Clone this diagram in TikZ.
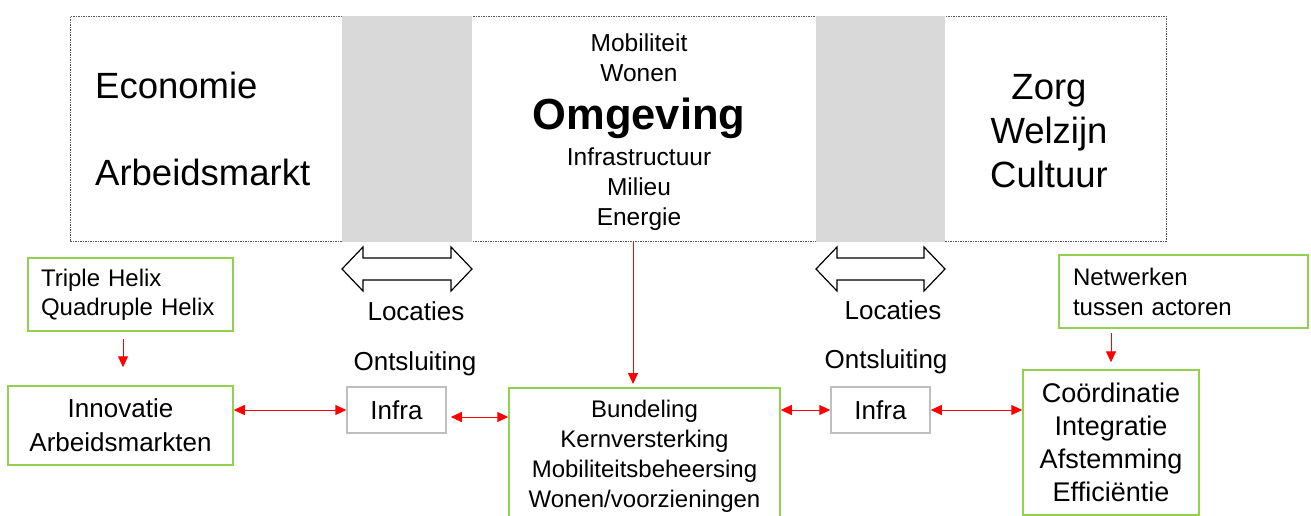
\documentclass[tikz,border=0pt]{standalone}
\usepackage{fontspec}
\setmainfont{Liberation Sans}
\usetikzlibrary{arrows.meta}
\definecolor{boxgreen}{HTML}{92D050}
\definecolor{bandgray}{HTML}{D9D9D9}
\definecolor{infragray}{HTML}{BFBFBF}
\definecolor{arrred}{HTML}{FF0000}
\definecolor{dashgray}{HTML}{595959}
\newcommand\fsz[2]{\fontsize{#1}{#2}\selectfont}
\begin{document}
\begin{tikzpicture}[x=1pt,y=-1pt,
  greenbox/.style={draw=boxgreen,line width=1.5pt,rectangle,inner sep=0pt},
  infrabox/.style={draw=infragray,line width=1.5pt,minimum width=99pt,minimum height=46pt,inner sep=0pt,font=\fsz{26}{30}},
  link/.style={draw=arrred,line width=1pt,{Triangle[length=11pt,width=10pt]}-{Triangle[length=11pt,width=10pt]}},
  feed/.style={draw=arrred,line width=1pt,-{Triangle[length=11pt,width=10pt]}},
  hollow/.style={draw=black,line width=1.2pt,fill=white,line join=miter},
  lbl/.style={anchor=base,inner sep=0pt},
  lblw/.style={anchor=base west,inner sep=0pt},
]
\useasboundingbox (0,0) rectangle (1311,516);
% top frame
\node[draw=dashgray,line width=0.8pt,dash pattern=on 1.5pt off 1pt,minimum width=1096pt,minimum height=225pt,anchor=north west,inner sep=0pt] (env) at (70,16) {};
\fill[bandgray] (342,16) rectangle (472,241.5);
\fill[bandgray] (816,16) rectangle (945,241.5);
% top texts
\node[lblw,font=\fsz{36.5}{40}] (eco) at (95,99) {Economie};
\node[lblw,font=\fsz{36.5}{40}] (arb) at (95,185) {Arbeidsmarkt};
\node[lbl,font=\fsz{24.5}{28}] (mob) at (639,52) {Mobiliteit};
\node[lbl,font=\fsz{24.5}{28}] (won) at (639,82) {Wonen};
\node[lbl,font=\fsz{43.5}{46}\bfseries] (omg) at (639,129) {Omgeving};
\node[lbl,font=\fsz{24.5}{28}] (infs) at (639,165) {Infrastructuur};
\node[lbl,font=\fsz{24.5}{28}] (mil) at (639,195) {Milieu};
\node[lbl,font=\fsz{24.5}{28}] (ene) at (639,225) {Energie};
\node[lbl,font=\fsz{36.5}{40}] (zorg) at (1049,100) {Zorg};
\node[lbl,font=\fsz{36.5}{40}] (welz) at (1049,143) {Welzijn};
\node[lbl,font=\fsz{36.5}{40}] (cult) at (1049,187) {Cultuur};
% hollow double arrows
\draw[hollow] (342,269) -- (363,247) -- (363,258) -- (451,258) -- (451,247) -- (472,269) -- (451,291) -- (451,280) -- (363,280) -- (363,291) -- cycle;
\draw[hollow] (816,269) -- (837,247) -- (837,258) -- (924,258) -- (924,247) -- (945,269) -- (924,291) -- (924,280) -- (837,280) -- (837,291) -- cycle;
% labels
\node[lbl,font=\fsz{26}{30}] (loc1) at (416,320) {Locaties};
\node[lbl,font=\fsz{26}{30}] (ont1) at (415,370) {Ontsluiting};
\node[lbl,font=\fsz{26}{30}] (loc2) at (893,319) {Locaties};
\node[lbl,font=\fsz{26}{30}] (ont2) at (886,368) {Ontsluiting};
% boxes
\node[greenbox,text width=179pt,inner xsep=13pt,minimum height=73pt,align=left,font=\fsz{24}{29}] (tri) at (130.5,294.5) {Triple Helix\\Quadruple Helix};
\node[greenbox,minimum width=225pt,minimum height=79pt,align=center,font=\fsz{26}{34}] (inno) at (120.5,425.5) {Innovatie\\Arbeidsmarkten};
\node[infrabox] (inf1) at (396.5,410) {Infra};
\node[greenbox,anchor=north,minimum width=271pt,inner ysep=12.5pt,align=center,font=\fsz{24}{30}] (bund) at (644.5,387) {Bundeling\\Kernversterking\\Mobiliteitsbeheersing\\Wonen/voorzieningen};
\node[infrabox] (inf2) at (880.5,410) {Infra};
\node[greenbox,text width=221pt,inner xsep=14pt,minimum height=73pt,align=left,font=\fsz{24}{30}] (net) at (1183.5,291.5) {Netwerken\\tussen actoren};
\node[greenbox,minimum width=176pt,minimum height=145pt,align=center,font=\fsz{27}{33}] (coord) at (1111,442.5) {Coördinatie\\Integratie\\Afstemming\\Efficiëntie};
% connectors
\coordinate (tripx) at (123,339);
\coordinate (vx) at (633,0);
\draw[feed,shorten >=18pt] (tripx) -- (tripx |- inno.north);
\draw[feed,shorten >=3pt] (env.south -| vx) -- (bund.north -| vx);
\draw[feed,shorten <=4pt,shorten >=7pt] (net.south -| coord.north) -- (coord.north);
\draw[link] (inno.east |- inf1.west) -- (inf1.west);
\draw[link,shorten <=4pt] ([yshift=-7pt]inf1.east) -- ([yshift=-7pt]inf1.east -| bund.west);
\draw[link] (bund.east |- inf2.west) -- (inf2.west);
\draw[link] (inf2.east) -- (inf2.east -| coord.west);
\end{tikzpicture}
\end{document}
